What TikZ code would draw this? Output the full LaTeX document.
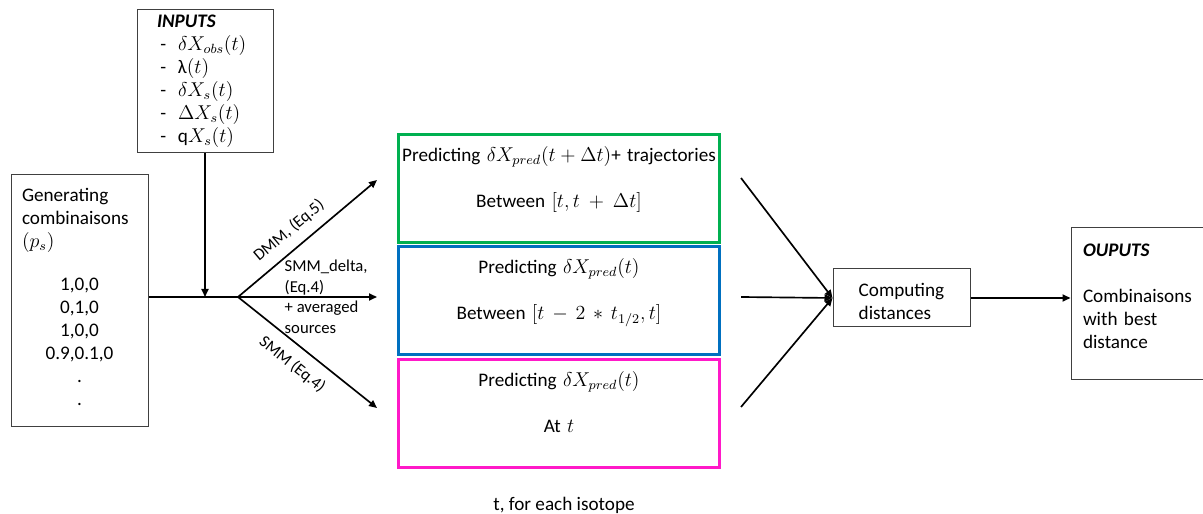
\documentclass[tikz,border=0pt]{standalone}
\usepackage{fontspec}
\setmainfont{Carlito}
\usetikzlibrary{arrows.meta,calc}
\usepackage{tkz-euclide}
\definecolor{GreenClr}{RGB}{0,176,80}
\definecolor{BlueClr}{RGB}{0,112,192}
\definecolor{PinkClr}{RGB}{255,25,200}
\definecolor{BoxClr}{RGB}{64,64,64}
\newcommand{\inpitem}[1]{\makebox[12.6pt][l]{\hspace{2pt}-}#1}

\begin{document}
\begin{tikzpicture}[x=0.6pt,y=0.6pt,
  font=\fontsize{11.5pt}{13.8pt}\selectfont,
  box/.style={draw=BoxClr,line width=0.6pt,inner sep=0pt},
  predbox/.style={draw=#1,line width=1.8pt,minimum width=192.6pt,
    minimum height=64.8pt,text width=192pt,align=center,inner sep=0pt},
  flowarrow/.style={line width=1pt,-{Triangle[length=4.8pt,width=4.2pt]}},
  branchlbl/.style={font=\fontsize{10pt}{12.3pt}\selectfont}]
\useasboundingbox (0,0) rectangle (1203,514);

\tkzDefPoints{238/217/J,205/217/M,377/334/U,377/217/R,377/106/D,
  741/336/P,741/217/Q,741/107/S}

% boxes
\node[box,minimum width=81.6pt,minimum height=85.8pt,text width=57.6pt,
  align=left] (inputs) at (205,432.5)
  {\textbf{\textit{INPUTS}}\\
   \inpitem{$\delta X_{obs}(t)$}\\
   \inpitem{λ$(t)$}\\
   \inpitem{$\delta X_s(t)$}\\
   \inpitem{$\Delta X_s(t)$}\\
   \inpitem{q$X_s(t)$}};
\node[box,minimum width=82.2pt,minimum height=151.2pt,text width=69pt,
  align=left] (gen) at (79.5,213)
  {Generating\\combinaisons\\$(p_s)$\par\vspace{0.9\baselineskip}
   \centering 1,0,0\\0,1,0\\1,0,0\\0.9,0.1,0\\.\\.\rule[-5pt]{0pt}{0pt}\par};
\node[predbox=GreenClr] (pdelta) at (559,325.5)
  {Predicting $\delta X_{pred}(t+\Delta t)$+ trajectories\\[\baselineskip]
   Between $[t,t+\Delta t]$\\ \mbox{}};
\node[predbox=BlueClr] (pmid) at (559,213)
  {Predicting $\delta X_{pred}(t)$\\[\baselineskip]
   Between $[t-2*t_{1/2},t]$\\ \mbox{}};
\node[predbox=PinkClr] (pnow) at (559,100.5)
  {Predicting $\delta X_{pred}(t)$\\[\baselineskip]
   At $t$\\ \mbox{}};
\node[box,minimum width=82.2pt,minimum height=34.8pt,align=left] (comp)
  at (901.5,216) {\rule{0pt}{12.5pt}Computing\\distances};
\node[box,minimum width=86.4pt,minimum height=91.2pt,text width=72pt,
  inner xsep=7.2pt,align=left] (outs) at (1143,210)
  {\textbf{\textit{OUPUTS}}\\[\baselineskip]Combinaisons\\with best\\
   distance\rule[-9.5pt]{0pt}{0pt}};
\node (isotope) at (564,9) {t, for each isotope};

% connectors
\draw[line width=1pt] (gen.east |- J) -- (J);
\draw[flowarrow] (inputs) -- (M);
\draw[flowarrow] (J) -- (U)
  node[branchlbl,sloped,above=2.5pt,pos=.45] {DMM, (Eq.5)};
\draw[flowarrow] (J) -- (R)
  node[branchlbl,pos=.33,anchor=west,align=left,inner sep=0pt]
  {SMM\_delta,\\(Eq.4)\\+ averaged\\sources};
\draw[flowarrow] (J) -- (D)
  node[branchlbl,sloped,below=3pt,pos=.475] {SMM (Eq.4)};
\draw[flowarrow] (P) -- (comp.west);
\draw[flowarrow] (Q) -- (comp.west);
\draw[flowarrow] (S) -- (comp.west);
\draw[flowarrow] (comp) -- (comp.east -| outs.west);

\end{tikzpicture}
\end{document}
